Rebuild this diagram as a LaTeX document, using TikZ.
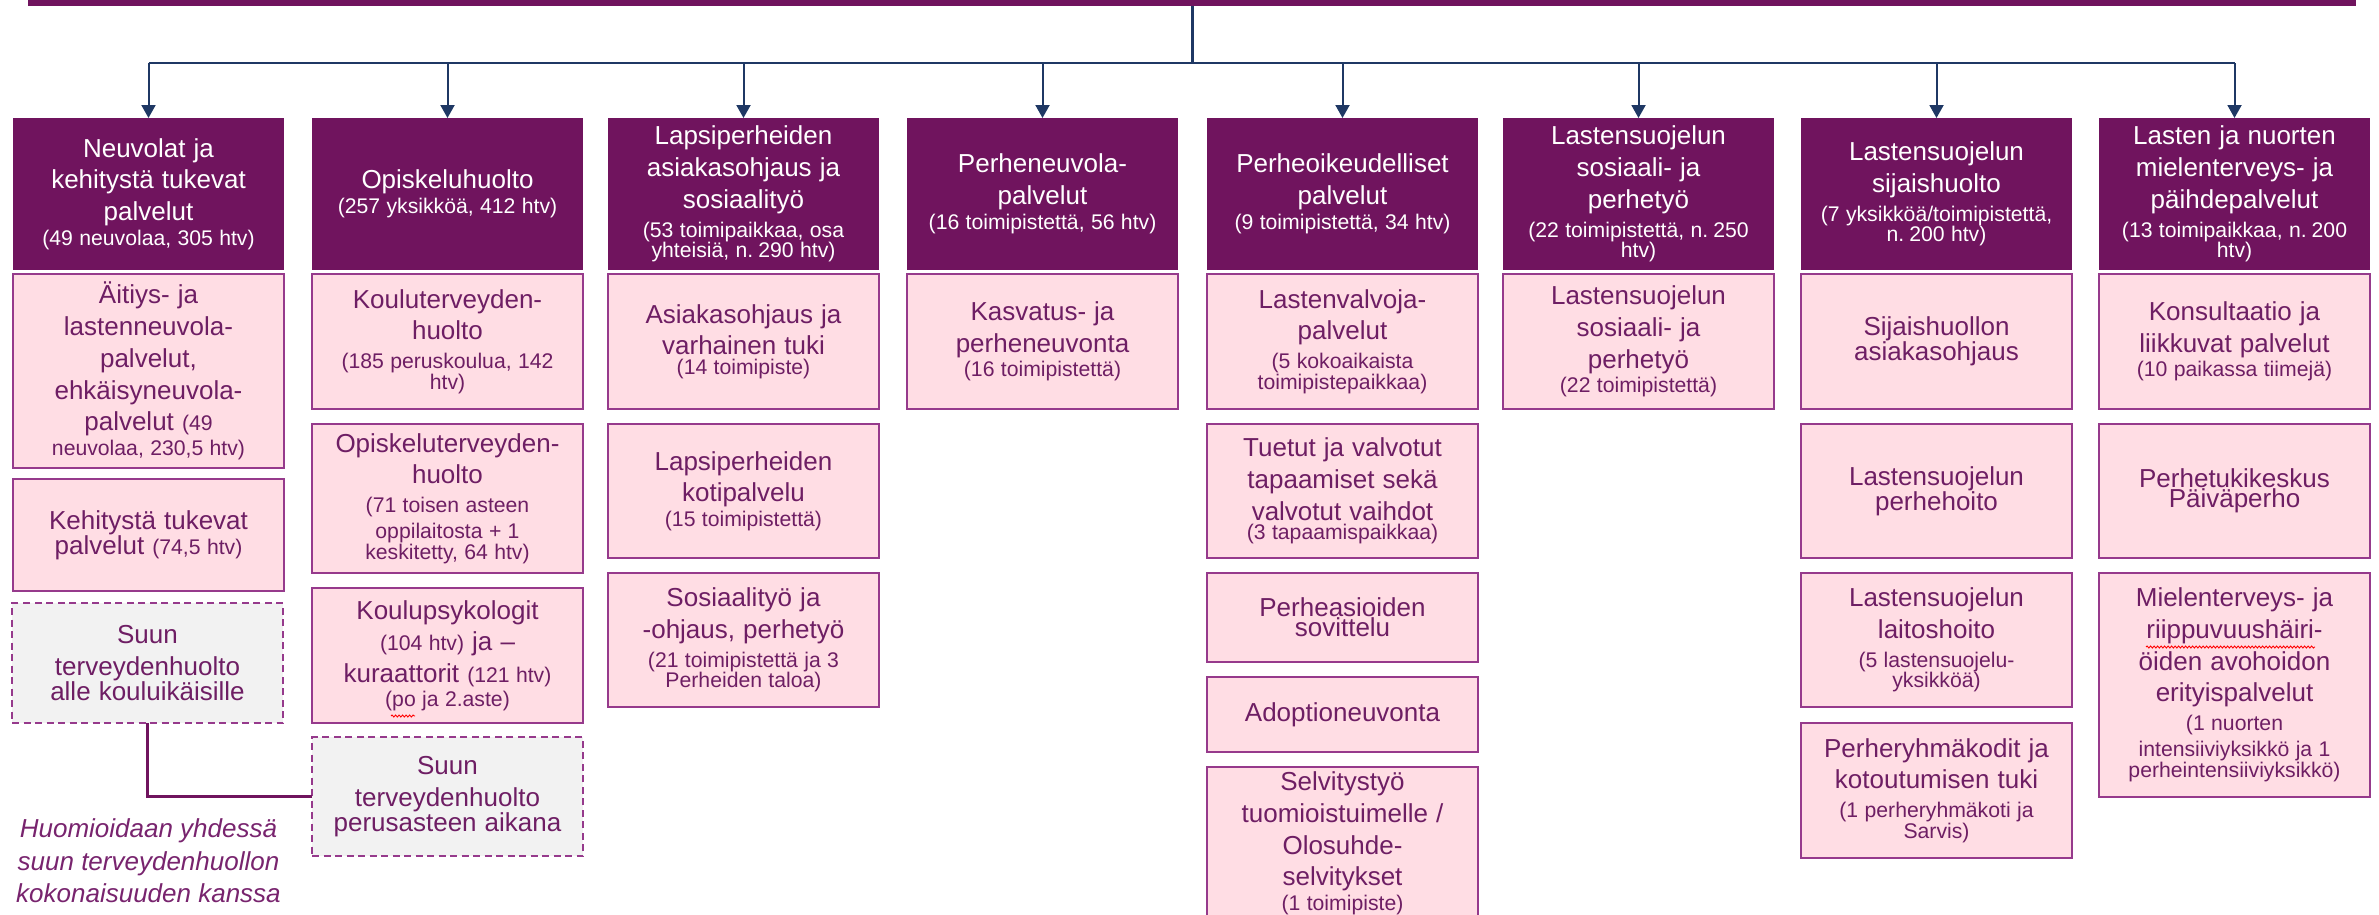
\documentclass[tikz,border=0pt]{standalone}
\usepackage{fontspec}
\setmainfont{Liberation Sans}
\usetikzlibrary{arrows.meta,decorations.pathmorphing}
\setlength{\parindent}{0pt}
\setlength{\parskip}{0pt}
\hyphenpenalty=10000
\exhyphenpenalty=10000
\definecolor{hdr}{RGB}{112,20,94}
\definecolor{pinkf}{RGB}{255,221,228}
\definecolor{pinkb}{RGB}{150,58,140}
\definecolor{textp}{RGB}{110,30,100}
\definecolor{notec}{RGB}{120,36,110}
\definecolor{navy}{RGB}{31,56,100}
\definecolor{grayf}{RGB}{242,242,242}
\newcommand{\bigtxt}{\fontsize{26pt}{31.7pt}\selectfont\spaceskip=0.31em\relax}
\newcommand{\smalltxt}{\fontsize{21.2pt}{26pt}\selectfont\spaceskip=0.3em\relax}
\newcommand{\smallpar}{\par\vskip3pt\smalltxt}
\tikzset{
  box/.style={rectangle, minimum width=271pt, text width=266pt, inner xsep=2.5pt, inner ysep=0pt, align=center, outer sep=0pt},
  hdrbox/.style={box, fill=hdr, text=white, minimum height=152pt},
  subbox/.style={box, fill=pinkf, draw=pinkb, line width=2pt, text=textp},
  dashbox/.style={box, fill=grayf, draw=pinkb, line width=2pt, dash pattern=on 7pt off 4.5pt, text=textp},
  topbar/.style={rectangle, fill=hdr, inner sep=0pt, outer sep=0pt},
  arr/.style={draw=navy, line width=2pt, -{Triangle[width=14pt,length=13pt]}},
  link/.style={draw=navy, line width=2pt},
  trunk/.style={draw=navy, line width=3pt},
  conn/.style={draw=hdr, line width=3pt},
  notetext/.style={align=center, text=notec, inner sep=0pt, font=\itshape\fontsize{26pt}{32.5pt}\selectfont},
  squiggle/.style={draw=red, line width=0.9pt, decorate, decoration={snake, amplitude=1pt, segment length=3.5pt}}
}
\begin{document}
\begin{tikzpicture}[x=1pt,y=-1pt]
\useasboundingbox (0,0) rectangle (2379,914);
\clip (0,0) rectangle (2379,914);

% top bar
\node[topbar, anchor=south, minimum width=2328pt, minimum height=40pt] (bar) at (1192,6) {};

% headers
\node[hdrbox] (h1) at (148.5,194) {\bigtxt Neuvolat ja\par kehitystä tukevat\par palvelut\smallpar (49 neuvolaa, 305 htv)};
\node[hdrbox] (h2) at (447.5,194) {\bigtxt Opiskeluhuolto\smallpar (257 yksikköä, 412 htv)};
\node[hdrbox] (h3) at (743.5,194) {\bigtxt Lapsiperheiden\par asiakasohjaus ja\par sosiaalityö\smallpar (53 toimipaikkaa, osa\par yhteisiä, n. 290 htv)};
\node[hdrbox] (h4) at (1042.5,194) {\bigtxt Perheneuvola-\par palvelut\smallpar (16 toimipistettä, 56 htv)};
\node[hdrbox] (h5) at (1342.5,194) {\bigtxt Perheoikeudelliset\par palvelut\smallpar (9 toimipistettä, 34 htv)};
\node[hdrbox] (h6) at (1638.5,194) {\bigtxt Lastensuojelun\par sosiaali- ja\par perhetyö\smallpar (22 toimipistettä, n. 250\par htv)};
\node[hdrbox] (h7) at (1936.5,194) {\bigtxt Lastensuojelun\par sijaishuolto\smallpar (7 yksikköä/toimipistettä,\par n. 200 htv)};
\node[hdrbox] (h8) at (2234.5,194) {\bigtxt Lasten ja nuorten\par mielenterveys- ja\par päihdepalvelut\smallpar (13 toimipaikkaa, n. 200\par htv)};

% column 1
\node[subbox, minimum height=194pt] (s11) at (148.5,371) {\bigtxt Äitiys- ja\par lastenneuvola-\par palvelut,\par ehkäisyneuvola-\par palvelut\ {\smalltxt (49}\smallpar neuvolaa, 230,5 htv)};
\node[subbox, minimum height=112pt] (s12) at (148.5,535) {\bigtxt Kehitystä tukevat\par palvelut {\smalltxt (74,5 htv)}};
\node[dashbox, minimum height=120pt] (d1) at (147.5,663) {\bigtxt Suun\par terveydenhuolto\par alle kouluikäisille};
\node[notetext] (note) at (148.5,861) {Huomioidaan yhdessä\\suun terveydenhuollon\\kokonaisuuden kanssa};

% column 2
\node[subbox, minimum height=135pt] (s21) at (447.5,341.5) {\bigtxt Kouluterveyden-\par huolto\smallpar (185 peruskoulua, 142\par htv)};
\node[subbox, minimum height=149pt] (s22) at (447.5,498.5) {\bigtxt Opiskeluterveyden-\par huolto\smallpar (71 toisen asteen\par oppilaitosta + 1\par keskitetty, 64 htv)};
\node[subbox, minimum height=135pt] (s23) at (447.5,655.5) {\bigtxt Koulupsykologit\par{\smalltxt (104 htv)} ja --\par kuraattorit {\smalltxt (121 htv)}\smallpar (po ja 2.aste)};
\node[dashbox, minimum height=119pt] (d2) at (447.5,796.5) {\bigtxt Suun\par terveydenhuolto\par perusasteen aikana};

% column 3
\node[subbox, minimum height=135pt] (s31) at (743.5,341.5) {\bigtxt Asiakasohjaus ja\par varhainen tuki\smallpar (14 toimipiste)};
\node[subbox, minimum height=134pt] (s32) at (743.5,491) {\bigtxt Lapsiperheiden\par kotipalvelu\smallpar (15 toimipistettä)};
\node[subbox, minimum height=134pt] (s33) at (743.5,640) {\bigtxt Sosiaalityö ja\par -ohjaus, perhetyö\smallpar (21 toimipistettä ja 3\par Perheiden taloa)};

% column 4
\node[subbox, minimum height=135pt] (s41) at (1042.5,341.5) {\bigtxt Kasvatus- ja\par perheneuvonta\smallpar (16 toimipistettä)};

% column 5
\node[subbox, minimum height=135pt] (s51) at (1342.5,341.5) {\bigtxt Lastenvalvoja-\par palvelut\smallpar (5 kokoaikaista\par toimipistepaikkaa)};
\node[subbox, minimum height=134pt] (s52) at (1342.5,491) {\bigtxt Tuetut ja valvotut\par tapaamiset sekä\par valvotut vaihdot\smallpar (3 tapaamispaikkaa)};
\node[subbox, minimum height=89pt] (s53) at (1342.5,617.5) {\bigtxt Perheasioiden\par sovittelu};
\node[subbox, minimum height=75pt] (s54) at (1342.5,714.5) {\bigtxt Adoptioneuvonta};
\node[subbox, minimum height=153pt] (s55) at (1342.5,843.5) {\bigtxt Selvitystyö\par tuomioistuimelle /\par Olosuhde-\par selvitykset\smallpar (1 toimipiste)};

% column 6
\node[subbox, minimum height=135pt] (s61) at (1638.5,341.5) {\bigtxt Lastensuojelun\par sosiaali- ja\par perhetyö\smallpar (22 toimipistettä)};

% column 7
\node[subbox, minimum height=135pt] (s71) at (1936.5,341.5) {\bigtxt Sijaishuollon\par asiakasohjaus};
\node[subbox, minimum height=134pt] (s72) at (1936.5,491) {\bigtxt Lastensuojelun\par perhehoito};
\node[subbox, minimum height=134pt] (s73) at (1936.5,640) {\bigtxt Lastensuojelun\par laitoshoito\smallpar (5 lastensuojelu-\par yksikköä)};
\node[subbox, minimum height=135pt] (s74) at (1936.5,790.5) {\bigtxt Perheryhmäkodit ja\par kotoutumisen tuki\smallpar (1 perheryhmäkoti ja\par Sarvis)};

% column 8
\node[subbox, minimum height=135pt] (s81) at (2234.5,341.5) {\bigtxt Konsultaatio ja\par liikkuvat palvelut\smallpar (10 paikassa tiimejä)};
\node[subbox, minimum height=134pt] (s82) at (2234.5,491) {\bigtxt Perhetukikeskus\par Päiväperho};
\node[subbox, minimum height=224pt] (s83) at (2234.5,685) {\bigtxt Mielenterveys- ja\par riippuvuushäiri-\par öiden avohoidon\par erityispalvelut\smallpar (1 nuorten\par intensiiviyksikkö ja 1\par perheintensiiviyksikkö)};

% connectors
\coordinate (hc) at (1192,63);
\coordinate (a1) at (148.5,63);
\coordinate (a2) at (447.5,63);
\coordinate (a3) at (743.5,63);
\coordinate (a4) at (1042.5,63);
\coordinate (a5) at (1342.5,63);
\coordinate (a6) at (1638.5,63);
\coordinate (a7) at (1936.5,63);
\coordinate (a8) at (2234.5,63);
\draw[trunk] (bar.south -| hc) -- (hc);
\draw[link] (a1) -- (a8);
\foreach \i in {1,...,8} {\draw[arr] (a\i) -- (h\i.north);}
\draw[conn] (d1.south) |- (d2.west);

% spell-check squiggles
\coordinate (sqa) at (391,716);
\coordinate (sqb) at (415,716);
\draw[squiggle] (sqa) -- (sqb);
\coordinate (sqc) at (2146,647);
\coordinate (sqd) at (2315,647);
\draw[squiggle] (sqc) -- (sqd);
\end{tikzpicture}
\end{document}
